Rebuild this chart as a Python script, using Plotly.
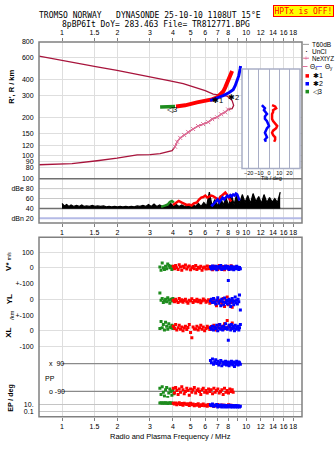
import numpy as np
import plotly.graph_objects as go

W, H = 335, 451
def PX(x): return x / W
def PY(y): return 1 - y / H

# ---------------- data ----------------
freq_ticks = [1, 1.5, 2, 3, 4, 5, 6, 7, 8, 9, 10, 12, 14, 16, 18]
freq_text_outer = ["1", "1.5", "2", "3", "4", "5", "6", "7", "8", "", "10", "12", "14", "16", "18"]
freq_text_mid = ["1", "1.5", "2", "3", "4", "5", "6", "7", "8", "9", "10", "12", "14", "16", "18"]
height_ticks = [80, 90, 100, 120, 150, 200, 300, 400, 600, 800]

# profile: plasma frequency vs real height (bottomside then topside)
prof_f = [0.75, 1.133, 1.55, 1.99, 2.56, 3.01, 3.41, 3.72, 3.96, 4.11, 4.22, 4.38, 4.60, 4.84,
          5.15, 5.48, 5.84, 6.22, 6.54, 6.95, 7.31, 7.69, 7.98, 8.39, 8.55, 8.39, 7.88, 7.22,
          6.62, 5.99, 5.28, 4.55, 3.86, 3.41, 3.01, 2.56, 1.99, 1.55, 1.133, 0.75]
prof_h = [84.8, 86.5, 91.2, 95.5, 101.5, 102, 104, 107.7, 109.7, 117.8, 128.9, 138.5, 146.1, 154.3,
          162.9, 171.9, 178, 184.7, 194.9, 202, 213.3, 221, 233, 236, 251, 274, 297, 303,
          308, 328, 350, 373, 393, 407, 426, 446, 475, 506, 553, 616]
# NeXtYZ profile points
nxyz_f = [4.11, 4.22, 4.38, 4.60, 4.84, 5.15, 5.48, 5.84, 6.22, 6.54, 6.95, 7.31, 7.69, 7.98]
nxyz_h = [117.8, 128.9, 138.5, 146.1, 154.3, 162.9, 171.9, 178, 184.7, 194.9, 202, 213.3, 221, 233]

# echo traces (virtual range)
o_f = [4.16, 4.66, 5.41, 5.99, 6.52, 6.96, 7.22, 7.50, 7.69, 7.88, 8.09, 8.29, 8.39]
o_h = [246, 251, 265, 272, 280, 290, 306, 323, 347, 379, 415, 446, 470]
x_f = [6.37, 6.87, 7.50, 8.09, 8.50, 8.72, 8.94, 9.11, 9.27, 9.33]
x_h = [274, 284, 300, 317, 334, 359, 393, 430, 488, 515]
e_f = [3.41, 3.60, 3.80, 4.00, 4.11]
e_h = [244, 245, 245, 246, 246]

# tilt inset
tilt_h = [252, 246, 238, 230, 222, 214, 205, 196, 188, 180, 172, 165, 158, 152, 146, 140, 134, 129]
tilt_x = [3, 6, 7, 4, 4, 3, 3, 3, 4, 6, 8, 7, 4, 3, 4, 6, 6, 5]
tilt_y = [-7, -6, -4, -5, -3, -2, -4, -4, -2, -1, 0, -2, -3, -4, -3, -2, -4, -3]

# amplitude panel
noise_f = [1.00, 1.03, 1.06, 1.09, 1.12, 1.16, 1.20, 1.24, 1.28, 1.32, 1.36, 1.41, 1.46, 1.51, 1.56,
           1.62, 1.68, 1.74, 1.80, 1.86, 1.93, 2.00, 2.07, 2.14, 2.22, 2.30, 2.38, 2.47, 2.56, 2.65,
           2.75, 2.85, 2.95, 3.05, 3.16, 3.27, 3.39, 3.51, 3.63, 3.76, 3.89, 4.03, 4.17, 4.32, 4.47,
           4.63, 4.79, 4.96, 5.13, 5.31, 5.50, 5.69, 5.89, 6.10, 6.31, 6.53, 6.76, 7.00, 7.24, 7.50,
           7.76, 8.03, 8.31, 8.60, 8.90, 9.21, 9.53, 9.86, 10.2, 10.55, 10.9, 11.3, 11.7, 12.1, 12.5,
           12.95, 13.4, 13.85, 14.3, 14.8, 15.3]
noise_a = [50, 45, 48, 44, 47, 44, 46, 44, 47, 44, 45, 44, 46, 44, 45,
           44, 45, 43, 44, 43, 44, 43, 44, 43, 44, 43, 44, 43, 45, 44,
           46, 44, 48, 44, 49, 44, 47, 44, 46, 44, 50, 44, 48, 44, 47,
           44, 46, 44, 48, 44, 50, 44, 52, 45, 73, 45, 58, 44, 66, 46,
           62, 45, 68, 48, 70, 50, 68, 52, 66, 50, 70, 54, 64, 50, 68,
           52, 62, 53, 60, 52, 73]
noise_floor = 41
amp_e_f = [3.45, 3.55, 3.65, 3.75, 3.85, 3.95, 4.05]
amp_e_a = [43, 44, 46, 48, 53, 55, 52]
amp_o_f = [4.0, 4.15, 4.3, 4.45, 4.6, 4.75, 4.9, 5.05, 5.2, 5.4, 5.55, 5.7, 5.85, 6.0, 6.15, 6.3,
           6.45, 6.6, 6.75, 6.9, 7.05, 7.2, 7.4, 7.55, 7.7, 7.85, 8.0, 8.15, 8.3]
amp_o_a = [47, 52, 55, 52, 49, 47, 48, 46, 50, 52, 58, 62, 63, 66, 62, 64,
           66, 65, 63, 60, 55, 62, 66, 70, 72, 68, 62, 58, 54]
amp_x_f = [6.45, 6.55, 6.7, 6.85, 7.0, 7.15, 7.3, 7.45, 7.6, 7.75, 7.9, 8.05, 8.2, 8.35, 8.5,
           8.65, 8.8, 8.95, 9.1, 9.2]
amp_x_a = [48, 46, 50, 55, 58, 52, 56, 62, 58, 62, 66, 63, 67, 64, 68, 66, 70, 68, 62, 56]

# echo parameters (lower panel)
g_f = [3.40, 3.45, 3.50, 3.55, 3.60, 3.65, 3.70, 3.75, 3.80, 3.85, 3.90, 3.95, 4.00, 4.05]
g_V = [5, -15, 30, 0, -10, 10, -5, 25, 15, 0, 10, -10, 5, 0]
g_YL = [40, -5, 5, -20, -10, 0, -15, 10, -5, -25, 0, -10, 5, -5]
g_XL = [15, 60, 20, 40, 5, 55, 30, 10, 45, 25, 20, 35, 15, 30]
g_PP = [-70, -110, -60, -95, -120, -80, -65, -130, -100, -75, -90, -115, -85, -105]
g_EP = [25, 30, 20, 28, 22, 30, 25, 18, 24, 30, 20, 26, 22, 18]

r_f = [4.02, 4.08, 4.14, 4.2, 4.27, 4.33, 4.4, 4.47, 4.54, 4.61, 4.68, 4.76, 4.83, 4.91, 4.99, 5.07,
       5.15, 5.23, 5.32, 5.4, 5.49, 5.58, 5.67, 5.76, 5.85, 5.95, 6.05, 6.15, 6.25, 6.35, 6.46, 6.57,
       6.68, 6.79, 6.9, 7.02, 7.14, 7.26, 7.38, 7.5, 7.63, 7.76, 7.89, 8.02, 8.15, 8.28, 8.4, 8.5]
r_V = [10, -5, 15, 0, -10, 20, 5, -15, 10, 0, 18, -8, 5, 12, -12, 0, 8, -5, 15, -10, 3, -3, 10, -15,
       0, 5, -8, 12, -5, 8, 0, -12, 10, -3, 5, -10, 15, 0, -6, 8, -12, 4, 10, -8, 0, 14, -5, 6]
r_YL = [-5, -15, 0, -10, -20, 5, -12, -3, -18, -8, 0, -15, -25, -5, -10, 3, -20, -8, -12, 0, -15, -5,
        -22, -10, 2, -6, -18, -12, -3, -25, -8, -15, 0, -20, -40, -10, -5, -15, -30, 5, -45, -12, 15,
        -35, -8, -20, -50, -10]
r_XL = [30, 15, 40, 5, 20, 35, 10, 25, 0, 18, 30, 8, 22, 40, -10, -44, 25, 12, 12, 30, 5, 20, 35, 10,
        25, 0, 15, 30, 20, 8, 28, 12, 35, 18, 5, 25, 40, 15, 30, 10, 45, 20, 65, 25, 35, 15, 50, 20]
r_PP = [-70, -100, -65, -85, -110, -75, -95, -60, -80, -105, -90, -70, -85, -115, -75, -95, -80, -65,
        -100, -85, -75, -90, -110, -80, -70, -95, -85, -100, -75, -90, -80, -105, -70, -95, -85, -75,
        -100, -90, -80, -110, -70, -95, -85, -100, -75, -90, -80, -95]
r_EP = [20, 12, 25, 8, 15, 30, 10, 18, 6, 22, 12, 9, 15, 5, 20, 8, 12, 4, 10, 6, 15, 3, 8, 5, 12, 4,
        7, 3, 9, 5, 4, 8, 3, 6, 4, 10, 5, 3, 7, 4, 6, 3, 5, 8, 4, 6, 3, 5]

b_f = [6.40, 6.48, 6.56, 6.65, 6.74, 6.83, 6.92, 7.01, 7.10, 7.19, 7.28, 7.37, 7.46, 7.55, 7.64,
       7.73, 7.82, 7.91, 8.00, 8.08, 8.16, 8.24, 8.32, 8.40, 8.48, 8.56, 8.64, 8.72, 8.80, 8.88,
       8.96, 9.04, 9.12, 9.20, 9.30]
b_V = [5, -8, 12, 0, -5, 10, -12, 3, 8, -3, 15, -10, 0, 6, -6, 12, -2, 8, -80, -10, 5, -5, 10, -8,
       2, -12, 6, 0, -6, 10, -4, 4, -10, 2, -5]
b_YL = [-10, 0, -20, 5, -15, -30, -5, 10, -25, -10, -40, 0, -15, -35, 8, -20, -5, -30, -12, 0, -25,
        -45, -8, 5, -18, -35, -10, 15, -22, -5, -30, 0, -15, 27, -67]
b_XL = [20, 10, 30, 5, 25, 15, 35, 0, 20, 40, 10, 25, 5, 30, 15, 45, 20, 10, -60, 35, 25, 5, 40, 15,
        30, 20, 0, 35, 10, 25, 15, 30, 5, 20, 40]
b_PP = [110, 95, 120, 85, 100, 115, 90, 105, 80, 95, 110, 75, 100, 85, 95, 105, 80, 90, 100, 75, 95,
        85, 105, 90, 80, 100, 70, 95, 85, 105, 90, 80, 100, 95, 85]
b_EP = [8, 5, 12, 3, 6, 4, 10, 2, 5, 3, 7, 2, 4, 6, 2, 3, 5, 2, 4, 3, 6, 2, 3, 5, 2, 4, 3, 2, 5, 3,
        2, 4, 3, 2, 3]

# ---------------- styling ----------------
RED, BLUE, GREEN = "#ff0000", "#0000ff", "#1e8c1e"
CRIMSON, PINK = "#a8143c", "#e0709a"
GRID = "#dedede"
FRAME = "#808080"
FONT = "Liberation Sans"
F_RANGE = [0.75, 20.1]
XR = [np.log10(F_RANGE[0]), np.log10(F_RANGE[1])]

fig = go.Figure()

def line(x, y, color, width, xa="x", ya="y", dash=None, **kw):
    fig.add_trace(go.Scatter(x=x, y=y, mode="lines", xaxis=xa, yaxis=ya, hoverinfo="skip",
                             line=dict(color=color, width=width, dash=dash), **kw))

def dots(x, y, color, xa, ya, size=3):
    fig.add_trace(go.Scatter(x=x, y=y, mode="markers", xaxis=xa, yaxis=ya, hoverinfo="skip",
                             marker=dict(symbol="square", size=size, color=color, line=dict(width=0))))

# --- panel 1: range vs frequency
line(prof_f, prof_h, CRIMSON, 1.3)
fig.add_trace(go.Scatter(x=nxyz_f, y=nxyz_h, mode="lines+markers", xaxis="x", yaxis="y",
                         hoverinfo="skip", line=dict(color=PINK, width=1.2),
                         marker=dict(symbol="x-thin", size=4, line=dict(color=PINK, width=1))))
line(e_f, e_h, GREEN, 3.5)
line(o_f, o_h, RED, 4)
line(x_f, x_h, BLUE, 3)

# --- panel 2: amplitudes
for lvl, col, wd in [(100, "#707070", 1.5), (80, "#c8c8c8", 1), (60, "#c8c8c8", 1),
                     (40, "#707070", 1.5), (20, "#b4bae6", 2)]:
    line(F_RANGE, [lvl, lvl], col, wd, xa="x2", ya="y2")
line(noise_f, [noise_floor] * len(noise_f), "#000000", 1.5, xa="x2", ya="y2")
line(noise_f, noise_a, "#000000", 1.2, xa="x2", ya="y2", fill="tonexty", fillcolor="#000000")
line(amp_e_f, amp_e_a, GREEN, 2.5, xa="x2", ya="y2")
line(amp_o_f, amp_o_a, RED, 2.5, xa="x2", ya="y2")
line(amp_x_f, amp_x_a, BLUE, 2.5, xa="x2", ya="y2")

# --- panel 3: echo parameters
line([1, F_RANGE[1]], [90, 90], "#8a8a8a", 1.3, xa="x3", ya="y6")
line([1, F_RANGE[1]], [-90, -90], "#8a8a8a", 1.3, xa="x3", ya="y6")
for (ff, V, YL, XLv, PP, EP, col) in [(g_f, g_V, g_YL, g_XL, g_PP, g_EP, GREEN),
                                     (r_f, r_V, r_YL, r_XL, r_PP, r_EP, RED),
                                     (b_f, b_V, b_YL, b_XL, b_PP, b_EP, BLUE)]:
    dots(ff, V, col, "x3", "y3")
    dots(ff, YL, col, "x3", "y4")
    dots(ff, XLv, col, "x3", "y5")
    dots(ff, PP, col, "x3", "y6")
    dots(ff, EP, col, "x3", "y7")

# --- tilt inset (last so its background covers the main grid)
line(tilt_x, tilt_h, RED, 2.5, xa="x4", ya="y8")
line(tilt_y, tilt_h, BLUE, 2.5, xa="x4", ya="y8")

# ---------------- axes ----------------
tickfont = dict(family=FONT, size=7, color="#000")
xcommon = dict(type="log", range=XR, domain=[PX(39), PX(302)], tickvals=freq_ticks,
               showgrid=True, gridcolor=GRID, gridwidth=1, zeroline=False, showline=False,
               ticks="outside", ticklen=3, tickcolor=FRAME, tickfont=tickfont, tickangle=0)
ycommon = dict(showgrid=True, gridcolor=GRID, zeroline=False, showline=False,
               ticks="outside", ticklen=3, tickcolor="rgba(0,0,0,0)", tickfont=tickfont)

fig.update_layout(
    xaxis=dict(xcommon, anchor="y", side="top", ticktext=freq_text_outer),
    yaxis=dict(ycommon, type="log", domain=[PY(170), PY(38.5)],
               range=[2.9031 - 131.5 / 128, 2.9031], tickvals=height_ticks),
    xaxis2=dict(xcommon, anchor="y2", side="bottom", ticktext=freq_text_mid),
    yaxis2=dict(ycommon, domain=[PY(222.5), PY(170)], range=[10.4, 114.9], showgrid=False,
                tickvals=[20, 40, 60, 80, 100], ticktext=["dBn 20", "40", "60", "dBe 80", "100"]),
    xaxis3=dict(xcommon, anchor="y7", side="bottom", ticktext=freq_text_outer),
    yaxis3=dict(ycommon, domain=[PY(284), PY(237)], range=[-100, 193.75], tickvals=[0, 100]),
    yaxis4=dict(ycommon, domain=[PY(316), PY(284)], range=[-100, 100], tickvals=[-100, 0, 100],
                ticktext=["+-100", "0", "+-100"]),
    yaxis5=dict(ycommon, domain=[PY(356), PY(316)], range=[-150, 100], tickvals=[-100, 0],
                ticktext=["-100", "0"]),
    yaxis6=dict(ycommon, domain=[PY(400), PY(356)], range=[-131.3, 148.5], showgrid=False,
                showticklabels=False),
    yaxis7=dict(ycommon, type="log", domain=[PY(419.3), PY(400)], range=[-2.452, 2.836],
                tickvals=[10, 0.1], ticktext=["10.", "0.1"], gridcolor="#c4c4c4"),
    xaxis4=dict(domain=[PX(242), PX(300)], anchor="y8", range=[-26.5, 30.4],
                tickvals=[-20, -10, 0, 10, 20], showgrid=True, gridcolor="#a9aec6",
                zeroline=False, showline=False, ticks="", tickangle=0,
                tickfont=dict(family=FONT, size=5.5)),
    yaxis8=dict(type="log", domain=[PY(167), PY(66)], range=[1.8992, 2.6883], anchor="x4",
                showgrid=False, showticklabels=False, zeroline=False, ticks=""),
)

# ---------------- frames & decorations ----------------
shapes = [
    dict(type="rect", xref="paper", yref="paper", x0=PX(39), x1=PX(302), y0=PY(222.5), y1=PY(38.5),
         line=dict(color=FRAME, width=1.5)),
    dict(type="rect", xref="paper", yref="paper", x0=PX(39), x1=PX(302), y0=PY(419.3), y1=PY(237),
         line=dict(color=FRAME, width=1.5)),
    dict(type="rect", xref="paper", yref="paper", x0=PX(242), x1=PX(300), y0=PY(167), y1=PY(66),
         line=dict(color="#a9aec6", width=1.5)),
    # legend swatches
    dict(type="line", xref="paper", yref="paper", x0=PX(303), x1=PX(309), y0=PY(41), y1=PY(41),
         line=dict(color="#999", width=1)),
    dict(type="line", xref="paper", yref="paper", x0=PX(303), x1=PX(309), y0=PY(55), y1=PY(55),
         line=dict(color=PINK, width=1)),
    dict(type="line", xref="paper", yref="paper", x0=PX(302.5), x1=PX(307.5), y0=PY(63.5), y1=PY(63.5),
         line=dict(color=PINK, width=1)),
    dict(type="line", xref="paper", yref="paper", x0=PX(316), x1=PX(322), y0=PY(63.5), y1=PY(63.5),
         line=dict(color="#7070ff", width=1)),
]
for yy, col in [(73, RED), (81, BLUE), (89, GREEN)]:
    shapes.append(dict(type="rect", xref="paper", yref="paper", x0=PX(305.5), x1=PX(309),
                       y0=PY(yy + 1.8), y1=PY(yy - 1.8), fillcolor=col, line=dict(width=0)))
fig.update_layout(shapes=shapes)

ann = []
def A(text, x, y, size=7, anchor="left", color="#000", angle=0, family=FONT, **kw):
    ann.append(dict(text=text, x=PX(x), y=PY(y), xref="paper", yref="paper", showarrow=False,
                    xanchor=anchor, yanchor="middle", textangle=angle,
                    font=dict(family=family, size=size, color=color), **kw))

MONO = "DejaVu Sans Mono"
NB = "\u00a0"
A(f"TROMSO NORWAY{NB*3}DYNASONDE 25-10-10 1108UT 15°E", 150, 11.5, size=8, anchor="center", family=MONO)
A("8pBP6It DoY= 283.463 File= TR812771.BPG", 156, 21, size=8, anchor="center", family=MONO)
ann.append(dict(text="HPTx is OFF!", x=PX(303), y=PY(7.3), xref="paper", yref="paper",
                showarrow=False, xanchor="center", yanchor="middle",
                font=dict(family=MONO, size=8, color="#ff0000"), bgcolor="#ffff00",
                bordercolor="#ff0000", borderwidth=1, borderpad=0.5))

# legend texts
A("T60dB", 310, 41, size=6.5)
A("·", 306, 47.5, size=9, anchor="center")
A("UnCl", 310, 48, size=6.5)
A("+", 306, 55, size=7, anchor="center", color=PINK)
A("NeXtYZ", 309.5, 55, size=6.3)
A("Θ<sub>x</sub>", 308, 63.5, size=6.5)
A("Θ<sub>y</sub>", 323, 63.5, size=6.5)
A("✱1", 311, 73, size=7)
A("✱2", 311, 81, size=7)
A("◁3", 311, 89, size=7)

# trace labels
for txt, f, h in [("✱1", 6.96, 274), ("✱2", 8.5, 288), ("◁3", 3.96, 232)]:
    ann.append(dict(text=txt, x=np.log10(f), y=np.log10(h), xref="x", yref="y", showarrow=False,
                    font=dict(family=FONT, size=7.5, color="#000")))

# inset label
A("Tilt / deg", 271, 176.5, size=5.5, anchor="center")

# axis titles
A("<b>R', R / km</b>", 12, 84, size=7.5, anchor="center", angle=-90)
A("<b>V*</b> <span style='font-size:5px'>m/s</span>", 9, 262, size=8, anchor="center", angle=-90)
A("<b>YL</b>", 9, 300, size=8, anchor="center", angle=-90)
A("/km", 12, 316, size=6, anchor="center", angle=-90)
A("<b>XL</b>", 9, 334, size=8, anchor="center", angle=-90)
A("<b>EP / deg</b>", 11, 400, size=7, anchor="center", angle=-90)
A("x  90", 46.5, 365.2)
A("PP", 42.5, 380)
A("o -90", 46.5, 393.5)
A("Radio and Plasma Frequency / MHz", 170, 439, size=7.5, anchor="center")
fig.update_layout(annotations=ann)

fig.update_layout(width=W, height=H, margin=dict(l=0, r=0, t=0, b=0), autosize=False,
                  paper_bgcolor="white", plot_bgcolor="white", showlegend=False,
                  font=dict(family=FONT, size=7, color="#000"))

fig.write_html("out.html", config={"displayModeBar": False})
